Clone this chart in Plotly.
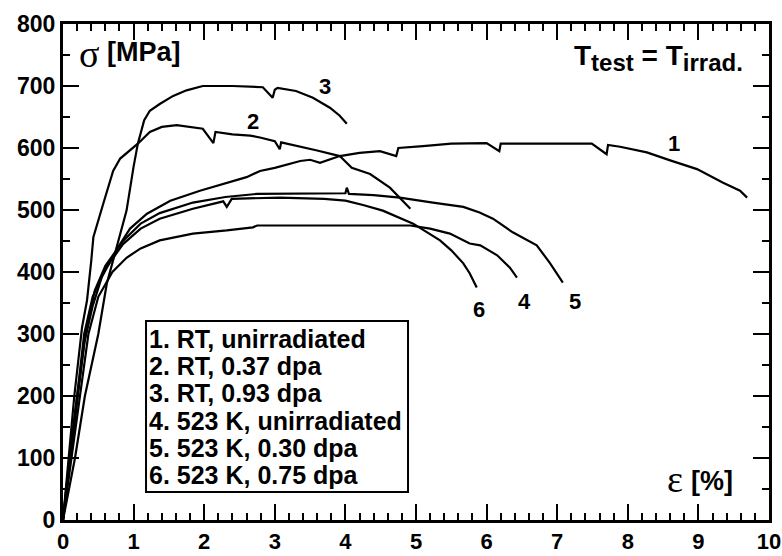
import plotly.graph_objects as go

# ---- data (strain %, stress MPa) ----
x1 = [0, 0.1, 0.2, 0.3, 0.42, 0.55, 0.78, 0.95, 1.19, 1.52, 1.94, 2.32, 2.6, 2.79, 3.0, 3.36, 3.5, 3.64,
      3.92, 4.2, 4.49, 4.72, 4.75, 5.1, 5.5, 6.0, 6.18, 6.2, 7.49, 7.7, 7.72, 7.89, 8.27, 8.6, 8.98, 9.35, 9.59, 9.69]
y1 = [0, 95, 195, 285, 345, 392, 440, 470, 494, 515, 531, 544, 553, 563, 568, 579, 581, 576,
      587, 592, 595, 587, 600, 603, 607, 608, 595, 607, 607, 590, 605, 602, 593, 580, 566, 544, 531, 520]

x2 = [0, 0.08, 0.16, 0.27, 0.34, 0.40, 0.43, 0.57, 0.71, 0.81, 1.06, 1.23, 1.4, 1.61, 1.9, 1.98, 2.13, 2.16,
      2.4, 2.65, 2.79, 3.0, 3.07, 3.09, 3.6, 3.92, 4.09, 4.35, 4.63, 4.92]
y2 = [0, 100, 200, 311, 354, 418, 456, 510, 563, 583, 607, 626, 634, 637, 633, 631, 608, 626,
      622, 620, 617, 611, 598, 609, 596, 587, 568, 558, 536, 502]

x3 = [0, 0.17, 0.31, 0.5, 0.62, 0.67, 0.78, 0.9, 1.0, 1.06, 1.15, 1.23, 1.37, 1.56, 1.75, 1.98, 2.4, 2.83,
      2.97, 3.0, 3.04, 3.3, 3.54, 3.78, 3.92, 4.02]
y3 = [0, 100, 200, 300, 381, 402, 450, 499, 570, 607, 645, 660, 671, 684, 693, 700, 700, 698,
      681, 694, 697, 692, 681, 665, 652, 639]

x4 = [0, 0.12, 0.23, 0.36, 0.5, 0.7, 0.9, 1.1, 1.37, 1.84, 2.32, 2.69, 2.75, 3.5, 4.2, 4.92, 5.2, 5.48,
      5.76, 5.91, 6.15, 6.33, 6.43]
y4 = [0, 100, 200, 300, 360, 400, 423, 438, 451, 462, 467, 472, 475, 475, 476, 475, 470, 462,
      446, 443, 427, 407, 391]

x5 = [0, 0.1, 0.2, 0.32, 0.45, 0.6, 0.85, 1.1, 1.37, 1.84, 2.3, 2.75, 3.5, 4.0, 4.02, 4.05, 4.4, 4.77,
      5.24, 5.67, 5.9, 6.09, 6.37, 6.71, 6.9, 7.08]
y5 = [0, 100, 200, 300, 370, 410, 450, 478, 495, 512, 521, 526, 527, 527, 536, 526, 524, 520,
      512, 505, 496, 486, 464, 443, 414, 383]

x6 = [0, 0.09, 0.2, 0.3, 0.42, 0.6, 0.85, 1.1, 1.37, 1.84, 2.27, 2.32, 2.39, 3.07, 3.7, 4.0, 4.25, 4.53,
      4.96, 5.34, 5.5, 5.67, 5.76, 5.86]
y6 = [0, 100, 200, 300, 360, 405, 445, 470, 486, 502, 514, 505, 518, 520, 518, 515, 508, 499,
      478, 451, 435, 414, 398, 375]

curve_ids = ["1", "2", "3", "4", "5", "6"]
curve_label_x = [8.65, 2.69, 3.71, 6.54, 7.25, 5.89]
curve_label_y = [608, 643, 700, 352, 353, 340]

legend_lines = ["1. RT, unirradiated", "2. RT, 0.37 dpa", "3. RT, 0.93 dpa",
                "4. 523 K, unirradiated", "5. 523 K, 0.30 dpa", "6. 523 K, 0.75 dpa"]

xs = [x1, x2, x3, x4, x5, x6]
ys = [y1, y2, y3, y4, y5, y6]

BOLD = dict(family="Liberation Sans", weight="bold", color="black")
SERIF = dict(family="Liberation Serif", color="black")

fig = go.Figure()
for xv, yv, name in zip(xs, ys, legend_lines):
    fig.add_trace(go.Scatter(x=xv, y=yv, mode="lines", name=name,
                             line=dict(color="black", width=2.2), showlegend=False))

ann = []
for cid, cx, cy in zip(curve_ids, curve_label_x, curve_label_y):
    ann.append(dict(x=cx, y=cy, text=cid, showarrow=False, xanchor="center", yanchor="middle",
                    font=dict(size=22, **BOLD)))

# legend box text
for k, line in enumerate(legend_lines):
    ann.append(dict(x=1.19, y=291.9 - 43.87 * k, text=line, showarrow=False, xanchor="left",
                    yanchor="middle", font=dict(size=25, **BOLD)))

# axis titles inside the plot
ann.append(dict(x=0.20, y=752, text="σ", showarrow=False, xanchor="left", yanchor="middle",
                font=dict(size=38, **SERIF)))
ann.append(dict(x=0.60, y=755, text="[MPa]", showarrow=False, xanchor="left", yanchor="middle",
                font=dict(size=27, **BOLD)))
ann.append(dict(x=8.52, y=66, text="ε", showarrow=False, xanchor="left", yanchor="middle",
                font=dict(size=38, **SERIF)))
ann.append(dict(x=8.86, y=63, text="[%]", showarrow=False, xanchor="left", yanchor="middle",
                font=dict(size=27, **BOLD)))

# T_test = T_irrad.
ann.append(dict(x=9.66, y=745,
                text='T<sub><span style="font-size:24px">test</span></sub> = '
                     'T<sub><span style="font-size:24px">irrad.</span></sub>',
                showarrow=False, xanchor="right", yanchor="middle",
                font=dict(size=28, **BOLD)))

fig.add_shape(type="rect", xref="x", yref="y", x0=1.176, x1=4.887, y0=45, y1=321,
              line=dict(color="black", width=2), fillcolor="rgba(0,0,0,0)")

fig.update_layout(
    width=782, height=556,
    margin=dict(l=63, r=13, t=24, b=36),
    paper_bgcolor="white", plot_bgcolor="white",
    annotations=ann,
    showlegend=False,
)
fig.update_xaxes(range=[0, 10], tickvals=list(range(0, 11)), showgrid=False, zeroline=False,
                 automargin=False,
                 showline=True, linecolor="black", linewidth=3, mirror="allticks",
                 ticks="inside", ticklen=16, tickwidth=2, tickcolor="black",
                 minor=dict(dtick=0.2, ticks="inside", ticklen=7, tickwidth=2, tickcolor="black"),
                 tickfont=dict(size=22, **BOLD))
fig.update_yaxes(range=[0, 800], tickvals=list(range(0, 801, 100)), showgrid=False, zeroline=False,
                 automargin=False,
                 showline=True, linecolor="black", linewidth=3, mirror="allticks",
                 ticks="inside", ticklen=16, tickwidth=2, tickcolor="black",
                 minor=dict(dtick=50, ticks="inside", ticklen=7, tickwidth=2, tickcolor="black"),
                 tickfont=dict(size=23, **BOLD))

fig.write_html("out.html",
               config={"displayModeBar": False},
               post_script="document.body.style.margin='0';document.body.style.padding='0';")
